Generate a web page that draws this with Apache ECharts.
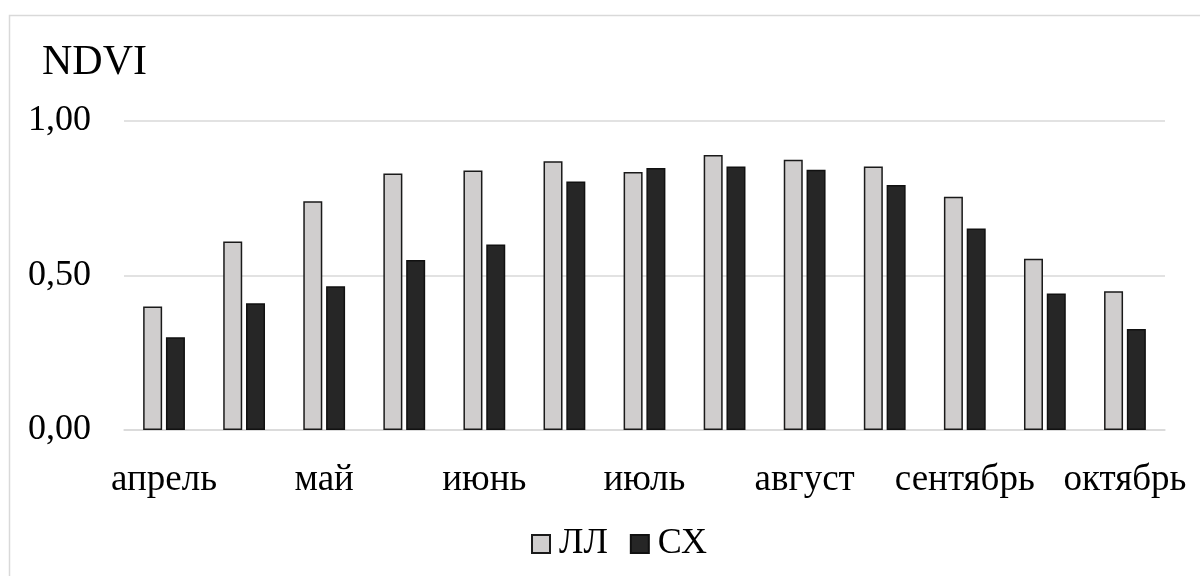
<!DOCTYPE html>
<html>
<head>
<meta charset="utf-8">
<script src="https://cdn.jsdelivr.net/npm/echarts@6/dist/echarts.min.js"></script>
<style>html,body{margin:0;padding:0;background:#fff;}#c{width:1200px;height:576px;}</style>
</head>
<body>
<div id="c"></div>
<script>
const categories = ['апрель','','май','','июнь','','июль','','август','','сентябрь','','октябрь'];
const seriesNames = ['ЛЛ','СХ'];
const valuesLL = [0.40,0.61,0.74,0.83,0.84,0.87,0.835,0.89,0.875,0.853,0.755,0.554,0.449];
const valuesSX = [0.30,0.41,0.465,0.55,0.60,0.804,0.848,0.853,0.842,0.793,0.652,0.442,0.327];
const yTicks = [0, 0.5, 1];
const yTitle = 'NDVI';

const font = 'Liberation Serif, Times New Roman, serif';
const chart = echarts.init(document.getElementById('c'));
chart.setOption({
  animation: false,
  backgroundColor: '#fff',
  graphic: [
    {type:'rect', shape:{x:9.5,y:15.5,width:1300,height:700}, style:{fill:'none',stroke:'#d9d9d9',lineWidth:1.5}, silent:true},
    {type:'text', left: 42, top: 42, style:{text: yTitle, font: '42px ' + font, fill:'#000'}}
  ],
  legend: {
    bottom: 9, left: 526,
    icon: 'rect',
    itemWidth: 18, itemHeight: 18, itemGap: 22,
    textStyle: {fontFamily: font, fontSize: 36, color:'#000', padding: [0,0,0,4]},
    data: seriesNames
  },
  grid: {left: 124, right: 35, top: 121, bottom: 146, containLabel: false},
  xAxis: {
    type: 'category', data: categories,
    axisTick: {show:false},
    axisLine: {lineStyle:{color:'#d9d9d9', width:1.5}},
    axisLabel: {interval: 0, margin: 32, fontFamily: font, fontSize: 37, color:'#000'}
  },
  yAxis: {
    type: 'value', min: yTicks[0], max: yTicks[yTicks.length-1], interval: yTicks[1]-yTicks[0],
    axisLine: {show:false}, axisTick: {show:false},
    splitLine: {lineStyle:{color:'#d9d9d9', width:1.5}},
    axisLabel: {margin: 33, fontFamily: font, fontSize: 36, color:'#000',
      formatter: v => v.toFixed(2).replace('.', ',')}
  },
  series: [
    {name: seriesNames[0], type:'bar', data: valuesLL, barWidth: 19, barGap: '20%',
     itemStyle:{color:'#d0cece', borderColor:'#1a1a1a', borderWidth:1.5}},
    {name: seriesNames[1], type:'bar', data: valuesSX, barWidth: 19,
     itemStyle:{color:'#262626', borderColor:'#111', borderWidth:1.5}}
  ]
});
</script>
</body>
</html>
